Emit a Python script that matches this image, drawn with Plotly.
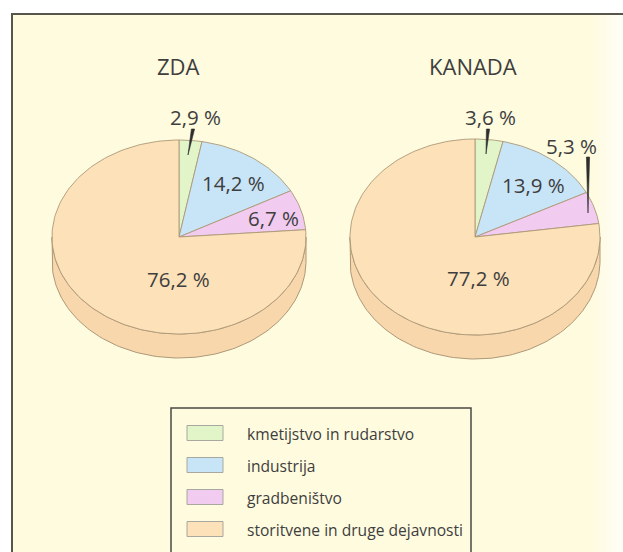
import numpy as np
import plotly.graph_objects as go

# ---------------- data ----------------
categories = ["kmetijstvo in rudarstvo", "industrija", "gradbeništvo",
              "storitvene in druge dejavnosti"]
countries = ["ZDA", "KANADA"]
zda_values = [2.9, 14.2, 6.7, 76.2]
kanada_values = [3.6, 13.9, 5.3, 77.2]

# ---------------- style ----------------
W, H = 623, 552
top_colors = ["#E1F5C9", "#C8E5F7", "#F1CBF0", "#FDE1B9"]
side_colors = ["#D3EBB8", "#B6D7EC", "#E6B9E4", "#F9D7AD"]
BG = "#FEFBDE"
EDGE = "#AD9877"
TEXT = "#3E3E3E"
FONT = "Open Sans"

layout_pies = [
    dict(values=zda_values, title=countries[0], cx=179, cy=237, rx=127, ry=97, depth=24,
         title_xy=(178, 66),
         label_xy=[(195, 117), (233, 183), (273, 218), (178, 279)],
         leaders={0: ((193, 129), (188, 155))}),
    dict(values=kanada_values, title=countries[1], cx=475, cy=237, rx=125, ry=98, depth=24,
         title_xy=(473, 66),
         label_xy=[(490, 117), (533, 185), (571, 146), (478, 278)],
         leaders={0: ((488, 129), (486, 154)), 2: ((588, 157), (588, 213))}),
]


def ell(cx, cy, rx, ry, a0, a1, n=80, dy=0.0):
    t = np.linspace(a0, a1, max(n, 2))
    return cx + rx * np.sin(t), cy - ry * np.cos(t) + dy


def fmt(v):
    return f"{v:.1f}".replace(".", ",") + " %"


fig = go.Figure()
annotations = []

for p in layout_pies:
    vals = np.array(p["values"], dtype=float)
    cum = np.concatenate([[0.0], np.cumsum(vals)]) / vals.sum() * 2 * np.pi
    cx, cy, rx, ry, d = p["cx"], p["cy"], p["rx"], p["ry"], p["depth"]

    # side (visible front half)
    for i in range(len(vals)):
        a0, a1 = max(cum[i], np.pi / 2), min(cum[i + 1], 3 * np.pi / 2)
        if a1 <= a0:
            continue
        xt, yt = ell(cx, cy, rx, ry, a0, a1, 120)
        xb, yb = ell(cx, cy, rx, ry, a1, a0, 120, dy=d)
        xs = np.concatenate([xt, xb, xt[:1]])
        ys = np.concatenate([yt, yb, yt[:1]])
        fig.add_trace(go.Scatter(x=xs, y=ys, mode="lines", fill="toself",
                                 fillcolor=side_colors[i],
                                 line=dict(color=EDGE, width=1),
                                 hoverinfo="skip", showlegend=False))

    # top face slices
    for i in range(len(vals)):
        n = int(10 + 200 * (cum[i + 1] - cum[i]) / (2 * np.pi))
        xa, ya = ell(cx, cy, rx, ry, cum[i], cum[i + 1], n)
        xs = np.concatenate([[cx], xa, [cx]])
        ys = np.concatenate([[cy], ya, [cy]])
        fig.add_trace(go.Scatter(x=xs, y=ys, mode="lines", fill="toself",
                                 fillcolor=top_colors[i],
                                 line=dict(color=EDGE, width=0.9),
                                 name=categories[i], hoverinfo="skip",
                                 showlegend=False))

    # leader wedges
    for i, ((x0, y0), (x1, y1)) in p["leaders"].items():
        fig.add_trace(go.Scatter(x=[x0 - 1.6, x0 + 1.6, x1, x0 - 1.6],
                                 y=[y0, y0, y1, y0], mode="lines", fill="toself",
                                 fillcolor="#2E2E2E", line=dict(color="#2E2E2E", width=0.6),
                                 hoverinfo="skip", showlegend=False))

    # labels
    for i, (lx, ly) in enumerate(p["label_xy"]):
        annotations.append(dict(x=lx, y=ly, text=fmt(vals[i]), showarrow=False,
                                xanchor="center", yanchor="middle",
                                font=dict(family=FONT, size=20.5, color=TEXT)))
    tx, ty = p["title_xy"]
    annotations.append(dict(x=tx, y=ty, text=p["title"], showarrow=False,
                            xanchor="center", yanchor="middle",
                            font=dict(family=FONT, size=22, color=TEXT)))

# ---------------- frame & legend ----------------
shapes = [
    dict(type="rect", x0=12, y0=14, x1=W + 10, y1=H + 10, layer="below",
         fillcolor=BG, line=dict(color="#56564C", width=2)),
]
# faded right edge of the scan
for k in range(8):
    shapes.append(dict(type="rect", x0=591 + 4 * k, y0=15, x1=595 + 4 * k, y1=H,
                       layer="below", fillcolor="white", opacity=0.08 + 0.09 * k,
                       line=dict(width=0)))

shapes.append(dict(type="rect", x0=171, y0=408, x1=471, y1=H + 10,
                   line=dict(color="#4A4A44", width=1.5), fillcolor="rgba(0,0,0,0)"))
row_y = [433, 465, 497, 529]
for i, cat in enumerate(categories):
    shapes.append(dict(type="rect", x0=187, x1=223, y0=row_y[i] - 7.5, y1=row_y[i] + 7.5,
                       fillcolor=top_colors[i], line=dict(color="#A8A8A0", width=1)))
    annotations.append(dict(x=245, y=row_y[i] + 1, text=cat, showarrow=False,
                            xanchor="left", yanchor="middle",
                            font=dict(family=FONT, size=15.6, color=TEXT)))

fig.update_layout(
    width=W, height=H,
    margin=dict(l=0, r=0, t=0, b=0),
    paper_bgcolor="white", plot_bgcolor="white",
    xaxis=dict(range=[0, W], visible=False, fixedrange=True),
    yaxis=dict(range=[H, 0], visible=False, fixedrange=True),
    shapes=shapes, annotations=annotations, showlegend=False,
)

fig.write_html("out.html", config={"displayModeBar": False},
               post_script="document.body.style.margin='0';")
